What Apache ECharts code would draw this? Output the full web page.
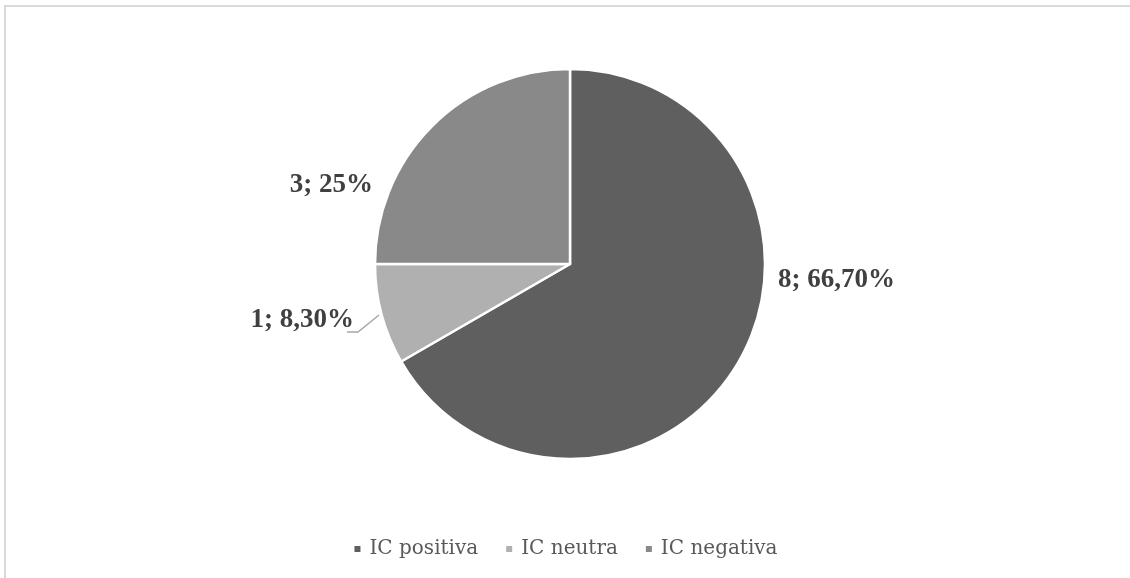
<!DOCTYPE html>
<html>
<head>
<meta charset="utf-8">
<script src="https://cdn.jsdelivr.net/npm/echarts@6/dist/echarts.min.js"></script>
<style>
html,body{margin:0;padding:0;background:#fff;overflow:hidden;}
#frame{position:absolute;left:4px;top:5px;width:3000px;height:3000px;border-top:2px solid #d9d9d9;border-left:2px solid #d9d9d9;}
#main{position:absolute;left:0;top:0;width:1130px;height:578px;}
</style>
</head>
<body>
<div id="frame"></div>
<div id="main"></div>
<script>
const categories = ['IC positiva', 'IC neutra', 'IC negativa'];
const counts = [8, 1, 3];
const percentLabels = ['66,70%', '8,30%', '25%'];
const colors = ['#5f5f5f', '#b0b0b0', '#898989'];

const chart = echarts.init(document.getElementById('main'), null, {renderer: 'canvas'});

const labelPos = [
  {x: 778, y: 280, align: 'left'},
  {x: 354, y: 320, align: 'right', line: [[379, 315], [358, 332], [347, 332]]},
  {x: 373, y: 185, align: 'right'}
];

const serif = '"Liberation Serif", "Times New Roman", Tinos, serif';

const option = {
  animation: false,
  legend: {
    bottom: 14,
    left: 'center',
    icon: 'rect',
    itemWidth: 8,
    itemHeight: 8,
    itemGap: 26,
    textStyle: {fontFamily: 'DejaVu Serif', fontSize: 20, color: '#595959', padding: [0, 0, 0, 3]},
    data: categories
  },
  series: [{
    type: 'pie',
    center: [570, 264],
    radius: 195,
    startAngle: 90,
    clockwise: true,
    avoidLabelOverlap: false,
    itemStyle: {borderColor: '#fff', borderWidth: 2.5},
    label: {
      show: true,
      position: 'outside',
      fontFamily: serif,
      fontWeight: 'bold',
      fontSize: 27,
      color: '#404040',
      formatter: p => counts[p.dataIndex] + '; ' + percentLabels[p.dataIndex]
    },
    labelLine: {show: true, lineStyle: {color: '#a6a6a6', width: 1.5}},
    labelLayout: function (params) {
      const lp = labelPos[params.dataIndex];
      const r = {x: lp.x, y: lp.y, align: lp.align, verticalAlign: 'middle'};
      if (lp.line) r.labelLinePoints = lp.line;
      return r;
    },
    data: categories.map((c, i) => ({
      name: c,
      value: counts[i],
      itemStyle: {color: colors[i]},
      labelLine: {show: i === 1}
    }))
  }]
};
chart.setOption(option);
</script>
</body>
</html>
